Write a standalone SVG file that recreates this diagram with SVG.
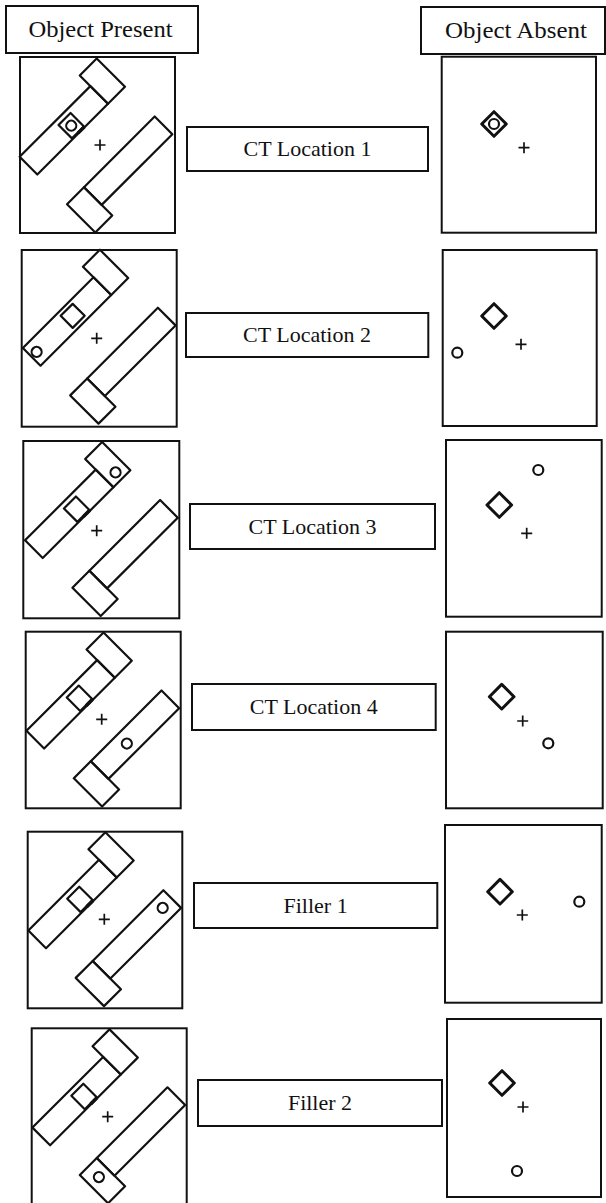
<svg xmlns="http://www.w3.org/2000/svg" xmlns:xlink="http://www.w3.org/1999/xlink" width="606" height="1203" viewBox="0 0 606 1203">
  <style>
    .frame { fill: #fff; stroke: #111; stroke-width: 2; }
    .box { fill: #fff; stroke: #111; stroke-width: 2; }
    .ln { fill: none; stroke: #111; stroke-width: 2.2; stroke-linejoin: round; }
    .dia { fill: none; stroke: #111; stroke-width: 3; stroke-linejoin: round; }
    .cross { fill: none; stroke: #111; stroke-width: 1.7; }
    .lbl { font-family: "Liberation Serif", "Times New Roman", serif; font-size: 22px; fill: #111; text-anchor: middle; }
    .hd { font-size: 23px; }
  </style>
  <defs>
    <!-- two L-shaped shelves, drawn in a frame that is rotated by -45 degrees -->
    <g id="shelves">
      <rect class="ln" x="-62" y="-46" width="100" height="25"/>
      <rect class="ln" x="38" y="-61" width="24" height="40"/>
      <rect class="ln" x="-38" y="21" width="100" height="25"/>
      <rect class="ln" x="-62" y="21" width="24" height="40"/>
    </g>
    <!-- box sitting on the near edge of the upper shelf -->
    <g id="box-on-shelf">
      <rect class="ln" x="-12" y="-41" width="17" height="19"/>
      <path d="M-4 -21.5H5" stroke="#111" stroke-width="3.5"/>
    </g>
    <path id="plus" class="cross" d="M-5.5 0H5.5M0 -5.5V5.5"/>
    <rect id="diamond" class="dia" x="-8.7" y="-8.7" width="17.4" height="17.4" transform="rotate(45)"/>
    <circle id="dot" class="ln" r="5"/>
  </defs>

  <rect width="606" height="1203" fill="#fff"/>

  <!-- column headings -->
  <g id="head-present">
    <rect class="box" x="6" y="6" width="192" height="47"/>
    <text class="lbl hd" x="100.5" y="37" textLength="144" lengthAdjust="spacingAndGlyphs">Object Present</text>
  </g>
  <g id="head-absent">
    <rect class="box" x="421" y="7" width="184" height="47"/>
    <text class="lbl hd" x="516" y="38" textLength="142" lengthAdjust="spacingAndGlyphs">Object Absent</text>
  </g>

  <!-- row 1 -->
  <g id="present-1">
    <rect class="frame" x="20" y="57" width="155" height="176"/>
    <g transform="translate(96 145.5) rotate(-45)">
      <use xlink:href="#shelves"/>
      <use xlink:href="#box-on-shelf"/>
      <use xlink:href="#dot" x="-3.5" y="-31.5"/>
    </g>
    <use xlink:href="#plus" x="100" y="145"/>
  </g>
  <g id="label-1">
    <rect class="box" x="187" y="127" width="241" height="44"/>
    <text class="lbl" x="307.5" y="156">CT Location 1</text>
  </g>
  <g id="absent-1">
    <rect class="frame" x="441.7" y="56.7" width="154.3" height="176"/>
    <use xlink:href="#diamond" x="494" y="124"/>
    <use xlink:href="#dot" x="494" y="124"/>
    <use xlink:href="#plus" x="524" y="147.7"/>
  </g>

  <!-- row 2 -->
  <g id="present-2">
    <rect class="frame" x="21.7" y="250" width="155" height="176.7"/>
    <g transform="translate(99.2 336.7) rotate(-45)">
      <use xlink:href="#shelves"/>
      <rect class="ln" x="-12.5" y="-42" width="17" height="17"/>
      <use xlink:href="#dot" x="-55" y="-33.5"/>
    </g>
    <use xlink:href="#plus" x="96.7" y="338.3"/>
  </g>
  <g id="label-2">
    <rect class="box" x="186" y="313" width="242.3" height="44"/>
    <text class="lbl" x="307" y="342">CT Location 2</text>
  </g>
  <g id="absent-2">
    <rect class="frame" x="442.7" y="250" width="154" height="176"/>
    <use xlink:href="#diamond" x="494" y="316"/>
    <use xlink:href="#dot" x="457.3" y="352.7"/>
    <use xlink:href="#plus" x="521" y="344.3"/>
  </g>

  <!-- row 3 -->
  <g id="present-3">
    <rect class="frame" x="23.3" y="441" width="156" height="177.3"/>
    <g transform="translate(101.4 529) rotate(-45)">
      <use xlink:href="#shelves"/>
      <use xlink:href="#box-on-shelf"/>
      <use xlink:href="#dot" x="50" y="-30"/>
    </g>
    <use xlink:href="#plus" x="96.7" y="530.7"/>
  </g>
  <g id="label-3">
    <rect class="box" x="190" y="504" width="245" height="45"/>
    <text class="lbl" x="312.5" y="534">CT Location 3</text>
  </g>
  <g id="absent-3">
    <rect class="frame" x="446" y="440" width="155.7" height="176.7"/>
    <use xlink:href="#diamond" x="499.3" y="505"/>
    <use xlink:href="#dot" x="538.3" y="470"/>
    <use xlink:href="#plus" x="526.7" y="533.3"/>
  </g>

  <!-- row 4 -->
  <g id="present-4">
    <rect class="frame" x="25.7" y="631.7" width="155" height="176.6"/>
    <g transform="translate(102.8 719.5) rotate(-45)">
      <use xlink:href="#shelves"/>
      <use xlink:href="#box-on-shelf" x="2"/>
      <use xlink:href="#dot" x="0" y="34"/>
    </g>
    <use xlink:href="#plus" x="101.7" y="719.3"/>
  </g>
  <g id="label-4">
    <rect class="box" x="192" y="684" width="243.7" height="46"/>
    <text class="lbl" x="313.8" y="714">CT Location 4</text>
  </g>
  <g id="absent-4">
    <rect class="frame" x="446" y="631.7" width="156.7" height="176.6"/>
    <use xlink:href="#diamond" x="501.7" y="696.7"/>
    <use xlink:href="#dot" x="548.3" y="743.3"/>
    <use xlink:href="#plus" x="522.7" y="721"/>
  </g>

  <!-- row 5 -->
  <g id="present-5">
    <rect class="frame" x="27.7" y="831.7" width="154.6" height="176.6"/>
    <g transform="translate(104.7 919.2) rotate(-45)">
      <use xlink:href="#shelves"/>
      <use xlink:href="#box-on-shelf"/>
      <use xlink:href="#dot" x="49" y="33"/>
    </g>
    <use xlink:href="#plus" x="104.3" y="919.3"/>
  </g>
  <g id="label-5">
    <rect class="box" x="194" y="883" width="243.3" height="45"/>
    <text class="lbl" x="315.6" y="913">Filler 1</text>
  </g>
  <g id="absent-5">
    <rect class="frame" x="445" y="825" width="156.7" height="177.7"/>
    <use xlink:href="#diamond" x="500" y="891.7"/>
    <use xlink:href="#dot" x="579.3" y="901.7"/>
    <use xlink:href="#plus" x="522.3" y="915"/>
  </g>

  <!-- row 6 -->
  <g id="present-6">
    <rect class="frame" x="31.7" y="1028.3" width="155" height="180"/>
    <g transform="translate(108.8 1116.3) rotate(-45)">
      <use xlink:href="#shelves"/>
      <use xlink:href="#box-on-shelf"/>
      <use xlink:href="#dot" x="-50" y="36"/>
    </g>
    <use xlink:href="#plus" x="107.7" y="1116.7"/>
  </g>
  <g id="label-6">
    <rect class="box" x="198" y="1080" width="244" height="46"/>
    <text class="lbl" x="320" y="1110">Filler 2</text>
  </g>
  <g id="absent-6">
    <rect class="frame" x="447" y="1019" width="154" height="178"/>
    <use xlink:href="#diamond" x="502" y="1083"/>
    <use xlink:href="#dot" x="517" y="1171"/>
    <use xlink:href="#plus" x="523" y="1107"/>
  </g>
</svg>
